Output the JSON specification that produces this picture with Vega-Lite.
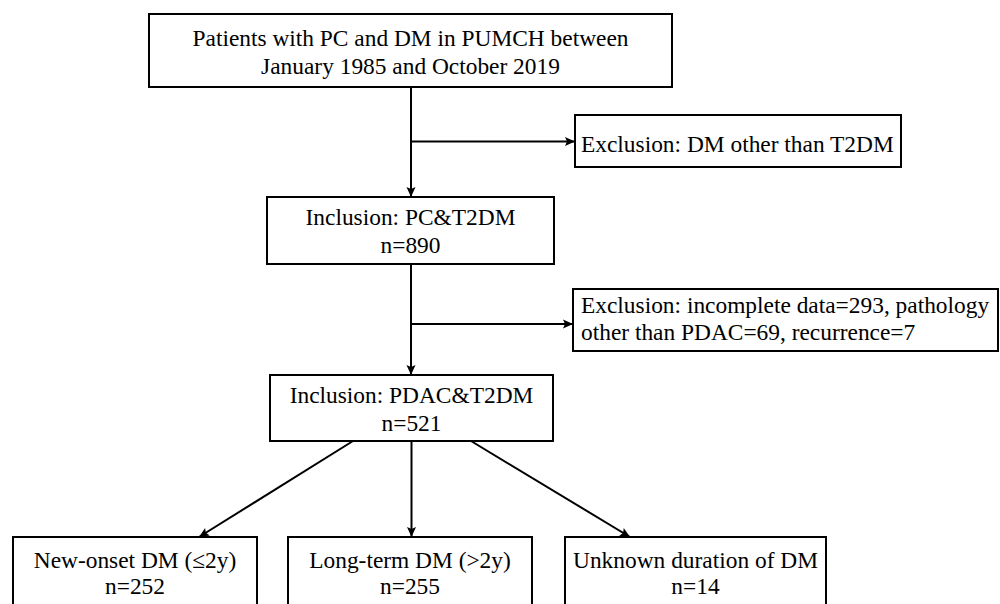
{
  "$schema": "https://vega.github.io/schema/vega-lite/v6.json",
  "width": 1000,
  "height": 604,
  "padding": 0,
  "autosize": {"type": "fit", "contains": "padding"},
  "background": "white",
  "config": {"view": {"stroke": null}},
  "datasets": {
    "boxes": [
      {"box": "source", "x": 149, "x2": 672, "y": 14, "y2": 87},
      {"box": "exclusion1", "x": 575, "x2": 901, "y": 115, "y2": 167},
      {"box": "inclusion1", "x": 267, "x2": 554, "y": 197, "y2": 264},
      {"box": "exclusion2", "x": 573, "x2": 998, "y": 289, "y2": 351},
      {"box": "inclusion2", "x": 270, "x2": 553, "y": 375, "y2": 441},
      {"box": "newonset", "x": 13, "x2": 257, "y": 537, "y2": 640},
      {"box": "longterm", "x": 288, "x2": 532, "y": 537, "y2": 640},
      {"box": "unknown", "x": 565, "x2": 826, "y": 537, "y2": 640}
    ],
    "edges": [
      {"x": 411, "y": 87, "x2": 411, "y2": 197, "head": "down"},
      {"x": 411, "y": 141.5, "x2": 575, "y2": 141.5, "head": "right"},
      {"x": 411, "y": 264, "x2": 411, "y2": 375, "head": "down"},
      {"x": 411, "y": 324, "x2": 573, "y2": 324, "head": "right"},
      {"x": 353, "y": 441, "x2": 199, "y2": 537, "head": "downleft"},
      {"x": 411.5, "y": 441, "x2": 411.5, "y2": 537, "head": "down"},
      {"x": 471, "y": 441, "x2": 630, "y2": 537, "head": "downright"}
    ],
    "labels": [
      {"text": "Patients with PC and DM in PUMCH between", "x": 410.5, "y": 45.7, "anchor": "middle"},
      {"text": "January 1985 and October 2019", "x": 410.5, "y": 74, "anchor": "middle"},
      {"text": "Exclusion: DM other than T2DM", "x": 581, "y": 151.5, "anchor": "start"},
      {"text": "Inclusion: PC&T2DM", "x": 410.5, "y": 225.3, "anchor": "middle"},
      {"text": "n=890", "x": 410.5, "y": 253, "anchor": "middle"},
      {"text": "Exclusion: incomplete data=293, pathology", "x": 581, "y": 313.3, "anchor": "start"},
      {"text": "other than PDAC=69, recurrence=7", "x": 581, "y": 340, "anchor": "start"},
      {"text": "Inclusion: PDAC&T2DM", "x": 411.5, "y": 403.3, "anchor": "middle"},
      {"text": "n=521", "x": 411.5, "y": 431, "anchor": "middle"},
      {"text": "New-onset DM (≤2y)", "x": 135, "y": 568, "anchor": "middle"},
      {"text": "n=252", "x": 135, "y": 594, "anchor": "middle"},
      {"text": "Long-term DM (>2y)", "x": 410, "y": 568, "anchor": "middle"},
      {"text": "n=255", "x": 410, "y": 594, "anchor": "middle"},
      {"text": "Unknown duration of DM", "x": 695.5, "y": 568, "anchor": "middle"},
      {"text": "n=14", "x": 695.5, "y": 594, "anchor": "middle"}
    ]
  },
  "layer": [
    {
      "data": {"name": "boxes"},
      "mark": {"type": "rect", "fill": "white", "stroke": "black", "strokeWidth": 2, "clip": true},
      "encoding": {
        "x": {"field": "x", "type": "quantitative", "scale": {"domain": [0, 1000], "nice": false, "zero": false}, "axis": null},
        "x2": {"field": "x2"},
        "y": {"field": "y", "type": "quantitative", "scale": {"domain": [0, 604], "nice": false, "zero": false, "reverse": true}, "axis": null},
        "y2": {"field": "y2"}
      }
    },
    {
      "data": {"name": "edges"},
      "mark": {"type": "rule", "stroke": "black", "strokeWidth": 2},
      "encoding": {
        "x": {"field": "x", "type": "quantitative", "axis": null},
        "x2": {"field": "x2"},
        "y": {"field": "y", "type": "quantitative", "axis": null},
        "y2": {"field": "y2"}
      }
    },
    {
      "data": {"name": "edges"},
      "mark": {"type": "point", "shape": "M0,0L-0.45,-1L0,-0.8L0.45,-1Z", "filled": true, "size": 400, "color": "black", "opacity": 1, "strokeWidth": 0},
      "encoding": {
        "x": {"field": "x2", "type": "quantitative", "axis": null},
        "y": {"field": "y2", "type": "quantitative", "axis": null},
        "angle": {"field": "head", "type": "nominal", "legend": null, "scale": {"type": "ordinal", "domain": ["down", "right", "downleft", "downright"], "range": [0, 270, 58, 301]}}
      }
    },
    {
      "data": {"name": "labels"},
      "transform": [{"filter": "datum.anchor === 'middle'"}],
      "mark": {"type": "text", "font": "Liberation Serif", "fontSize": 23.4, "align": "center", "baseline": "alphabetic", "color": "black"},
      "encoding": {
        "x": {"field": "x", "type": "quantitative", "axis": null},
        "y": {"field": "y", "type": "quantitative", "axis": null},
        "text": {"field": "text"}
      }
    },
    {
      "data": {"name": "labels"},
      "transform": [{"filter": "datum.anchor === 'start'"}],
      "mark": {"type": "text", "font": "Liberation Serif", "fontSize": 23.4, "align": "left", "baseline": "alphabetic", "color": "black"},
      "encoding": {
        "x": {"field": "x", "type": "quantitative", "axis": null},
        "y": {"field": "y", "type": "quantitative", "axis": null},
        "text": {"field": "text"}
      }
    }
  ]
}
